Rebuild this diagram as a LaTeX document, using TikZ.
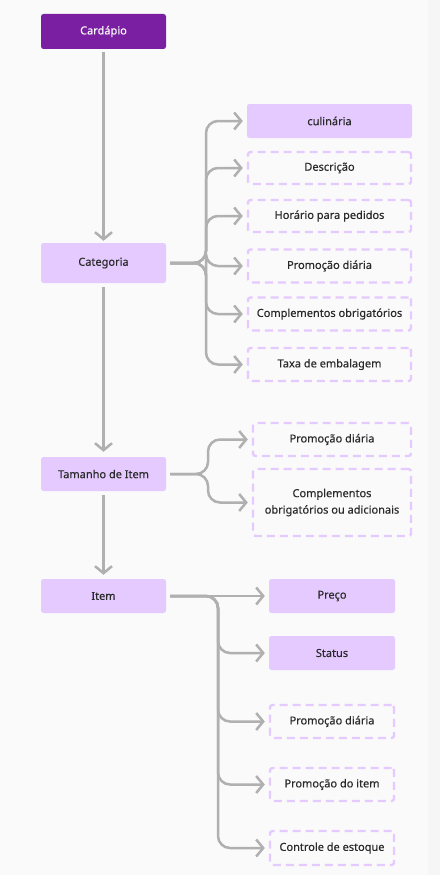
\documentclass[tikz,border=0pt]{standalone}
\usepackage{fontspec}
\setmainfont{Noto Sans}[BoldFont={Noto Sans},BoldFeatures={FakeBold=0.35}]
\usetikzlibrary{arrows.meta}
\definecolor{bg}{HTML}{FAFAFA}
\definecolor{bgr}{HTML}{F6F6F6}
\definecolor{darkp}{HTML}{7B1FA2}
\definecolor{lightp}{HTML}{E4CAFF}
\definecolor{txt}{HTML}{2A2A2A}
\definecolor{line}{HTML}{B0B0B0}
\tikzset{
  base/.style={rectangle, rounded corners=2.5pt, inner sep=0pt, align=center, font=\fontsize{11}{16.5}\selectfont\bfseries, text=txt},
  mainbox/.style={base, fill=darkp, text=white},
  solidbox/.style={base, fill=lightp},
  dashbox/.style={base, draw=lightp, line width=2.4pt, dash pattern=on 8pt off 5pt, fill=bg},
  conn/.style={draw=line, line width=2.5pt, rounded corners=12pt, -{Straight Barb[length=7pt,width=17pt]}, shorten >=4pt, shorten <=4pt}
}
\begin{document}
\begin{tikzpicture}[x=1pt,y=-1pt]
\fill[bg] (0,0) rectangle (440,875);
\fill[bgr] (428,0) rectangle (440,875);
\useasboundingbox (0,0) rectangle (440,875);
% main column
\node[mainbox, minimum width=125pt, minimum height=35pt] (card) at (103.5,31.5) {Cardápio};
\node[solidbox, minimum width=125pt, minimum height=40pt] (cat) at (103.5,263) {Categoria};
\node[solidbox, minimum width=125pt, minimum height=34pt] (tam) at (103.5,474) {Tamanho de Item};
\node[solidbox, minimum width=125pt, minimum height=34pt] (item) at (103.5,596) {Item};
% categoria children
\node[solidbox, minimum width=165pt, minimum height=34pt] (cul) at (329.5,121) {culinária};
\node[dashbox, minimum width=163pt, minimum height=32pt] (desc) at (329.5,168) {Descrição};
\node[dashbox, minimum width=163pt, minimum height=32pt] (hor) at (329.5,216) {Horário para pedidos};
\node[dashbox, minimum width=163pt, minimum height=33pt] (promc) at (329.5,266) {Promoção diária};
\node[dashbox, minimum width=163pt, minimum height=33pt] (compc) at (329.5,314) {Complementos obrigatórios};
\node[dashbox, minimum width=163pt, minimum height=33pt] (taxa) at (329.5,364.5) {Taxa de embalagem};
% tamanho children
\node[dashbox, minimum width=158pt, minimum height=33pt] (promt) at (332,439.5) {Promoção diária};
\node[dashbox, minimum width=158pt, minimum height=67pt] (compt) at (332,502.5) {Complementos\\obrigatórios ou adicionais};
% item children
\node[solidbox, minimum width=126pt, minimum height=34pt] (preco) at (332,596) {Preço};
\node[solidbox, minimum width=126pt, minimum height=34pt] (status) at (332,653) {Status};
\node[dashbox, minimum width=124pt, minimum height=33pt] (promi) at (332,721.5) {Promoção diária};
\node[dashbox, minimum width=124pt, minimum height=33pt] (promit) at (332,784.5) {Promoção do item};
\node[dashbox, minimum width=124pt, minimum height=34pt] (ctrl) at (332,848) {Controle de estoque};
% vertical connectors
\draw[conn, shorten <=3pt, shorten >=2pt] (card.south) -- (cat.north);
\draw[conn, shorten >=5pt] (cat.south) -- (tam.north);
\draw[conn, shorten >=4pt] (tam.south) -- (item.north);
% categoria branches
\coordinate (cj) at (206,263);
\foreach \c in {cul,desc,hor,promc,compc,taxa}
  \draw[conn] (cat.east) -- (cj) |- (\c.west);
% tamanho branches
\coordinate (tj) at (208,474);
\foreach \c in {promt,compt}
  \draw[conn] (tam.east) -- (tj) |- (\c.west);
% item branches
\coordinate (ij) at (218,596);
\draw[conn] (item.east) -- (preco.west);
\foreach \c in {status,promi,promit,ctrl}
  \draw[conn] (item.east) -- (ij) |- (\c.west);
\end{tikzpicture}
\end{document}
